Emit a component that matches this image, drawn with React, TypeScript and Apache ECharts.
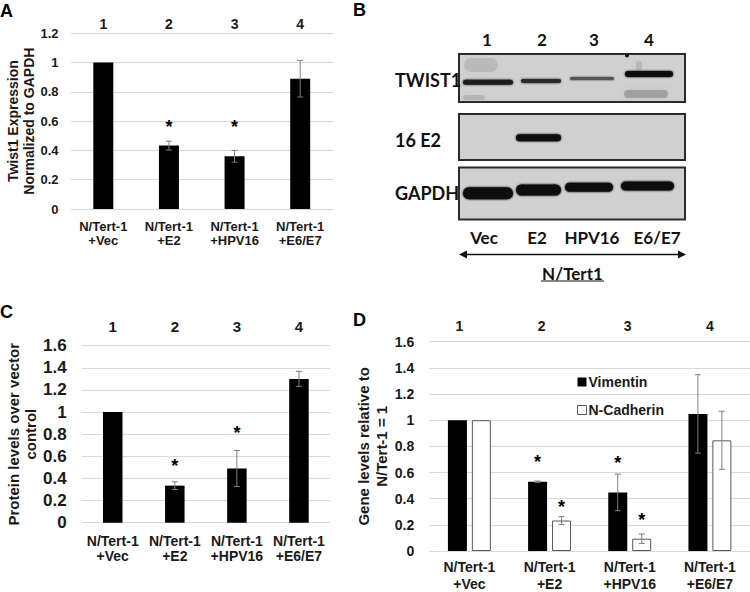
import React, { useEffect, useRef } from "react";
import * as echarts from "echarts";

// ---------- data ----------
const categories = ["N/Tert-1\n+Vec", "N/Tert-1\n+E2", "N/Tert-1\n+HPV16", "N/Tert-1\n+E6/E7"];
const laneNumbers = ["1", "2", "3", "4"];

const twist1Values = [1, 0.433, 0.36, 0.89];
const twist1Errors = [0, 0.03, 0.04, 0.125];
const twist1Stars: (number | null)[] = [null, 0.59, 0.59, null];

const proteinValues = [1, 0.335, 0.49, 1.3];
const proteinErrors = [0, 0.035, 0.163, 0.068];
const proteinStars: (number | null)[] = [null, 0.55, 0.85, null];

const vimentinValues = [1, 0.53, 0.448, 1.048];
const vimentinErrors = [0, 0.005, 0.14, 0.3];
const vimentinStars: (number | null)[] = [null, 0.71, 0.7, null];

const nCadherinValues = [1, 0.233, 0.094, 0.846];
const nCadherinErrors = [0, 0.03, 0.036, 0.222];
const nCadherinStars: (number | null)[] = [null, 0.37, 0.27, null];

const blotRowLabels = ["TWIST1", "16 E2", "GAPDH"];
const blotLaneLabels = ["Vec", "E2", "HPV16", "E6/E7"];
const blotCellLine = "N/Tert1";

const yTitleA = "Twist1 Expression\nNormalized to GAPDH";
const yTitleC = "Protein levels over vector\ncontrol";
const yTitleD = "Gene levels relative to\nN/Tert-1 = 1";

const FONT = '"Liberation Sans", Arial, sans-serif';
const BLOT_FONT = 'Lato, "Open Sans", sans-serif';
const TXT = "#1a1a1a";
const GRID_LINE = "#d9d9d9";
const ERR = "#7f7f7f";

function errorSeries(xi: number, yi: number, values: number[], errors: number[], offset: number) {
  return {
    type: "custom",
    xAxisIndex: xi,
    yAxisIndex: yi,
    silent: true,
    z: 10,
    data: values.map((v, i) => [i, v, errors[i]]),
    renderItem: (_p: any, api: any) => {
      const i = api.value(0);
      const v = api.value(1);
      const e = api.value(2);
      if (!e) return null;
      const top = api.coord([i, v + e]);
      const bot = api.coord([i, v - e]);
      const x = top[0] + offset;
      const st = { stroke: ERR, lineWidth: 1 };
      return {
        type: "group",
        children: [
          { type: "line", shape: { x1: x, y1: top[1], x2: x, y2: bot[1] }, style: st },
          { type: "line", shape: { x1: x - 3, y1: top[1], x2: x + 3, y2: top[1] }, style: st },
          { type: "line", shape: { x1: x - 3, y1: bot[1], x2: x + 3, y2: bot[1] }, style: st },
        ],
      };
    },
  };
}

function starSeries(xi: number, yi: number, stars: (number | null)[], offset: number) {
  const data: number[][] = [];
  stars.forEach((s, i) => {
    if (s != null) data.push([i, s]);
  });
  return {
    type: "custom",
    xAxisIndex: xi,
    yAxisIndex: yi,
    silent: true,
    z: 11,
    data,
    renderItem: (_p: any, api: any) => {
      const p = api.coord([api.value(0), api.value(1)]);
      return {
        type: "text",
        x: p[0] + offset,
        y: p[1] + 4,
        style: {
          text: "*",
          font: `bold 18px ${FONT}`,
          fill: "#000",
          align: "center",
          verticalAlign: "middle",
        },
      };
    },
  };
}

function bottomAxis(gridIndex: number, fontSize: number, lineHeight: number, margin: number) {
  return {
    type: "category",
    gridIndex,
    data: categories,
    axisLine: { show: false },
    axisTick: { show: false },
    axisLabel: {
      interval: 0,
      color: TXT,
      fontFamily: FONT,
      fontWeight: "bold",
      fontSize,
      lineHeight,
      margin,
    },
  };
}

function topAxis(gridIndex: number, fontSize: number, margin: number, shifts?: number[]) {
  return {
    type: "category",
    gridIndex,
    position: "top",
    data: laneNumbers.map((n, i) =>
      shifts ? { value: n, textStyle: { padding: [0, shifts[i] * 2, 0, 0] } } : n
    ),
    axisLine: { show: false },
    axisTick: { show: false },
    splitLine: { show: false },
    axisLabel: {
      interval: 0,
      color: TXT,
      fontFamily: FONT,
      fontWeight: "bold",
      fontSize,
      margin,
    },
  };
}

function valueAxis(
  gridIndex: number,
  max: number,
  fontSize: number,
  margin: number,
  name: string,
  nameSize: number,
  nameLH: number,
  nameGap: number
) {
  return {
    type: "value",
    gridIndex,
    min: 0,
    max,
    interval: 0.2,
    axisLine: { show: false },
    axisTick: { show: false },
    splitLine: { lineStyle: { color: GRID_LINE, width: 1 } },
    axisLabel: { color: TXT, fontFamily: FONT, fontWeight: "bold", fontSize, margin },
    name,
    nameLocation: "middle",
    nameRotate: 90,
    nameGap,
    nameTextStyle: {
      color: TXT,
      fontFamily: FONT,
      fontWeight: "bold",
      fontSize: nameSize,
      lineHeight: nameLH,
    },
  };
}

function blotGraphics() {
  const els: any[] = [];
  const boxX = 459;
  const boxW = 226;
  const boxes = [
    { y: 54, h: 48 },
    { y: 114, h: 46 },
    { y: 167.5, h: 52 },
  ];
  boxes.forEach((b) =>
    els.push({
      type: "rect",
      shape: { x: boxX, y: b.y, width: boxW, height: b.h },
      style: { fill: "#d0d0d0", stroke: "#2b2b2b", lineWidth: 2 },
      z: 1,
    })
  );
  // faint smudges
  const smudges = [
    { x: 464, y: 58, w: 34, h: 14, c: "rgba(120,120,120,0.22)" },
    { x: 463, y: 95, w: 22, h: 5, c: "rgba(110,110,110,0.25)" },
    { x: 624, y: 90, w: 44, h: 8, c: "rgba(90,90,90,0.35)" },
    { x: 636, y: 61, w: 6, h: 10, c: "rgba(120,120,120,0.25)" },
  ];
  smudges.forEach((s) =>
    els.push({
      type: "rect",
      shape: { x: s.x, y: s.y, width: s.w, height: s.h, r: Math.min(s.h, s.w) / 2 },
      style: { fill: s.c, shadowBlur: 6, shadowColor: s.c },
      z: 2,
    })
  );
  els.push({ type: "circle", shape: { cx: 627, cy: 55.5, r: 2 }, style: { fill: "#111" }, z: 3 });
  const bands = [
    { x1: 463, x2: 513, y: 82.3, h: 5, c: "#1c1c1c" },
    { x1: 521, x2: 561, y: 81, h: 4, c: "#2a2a2a" },
    { x1: 570, x2: 614, y: 78.5, h: 3, c: "#555" },
    { x1: 625, x2: 673, y: 74, h: 6, c: "#111" },
    { x1: 516, x2: 561, y: 137.7, h: 7, c: "#0d0d0d" },
    { x1: 463, x2: 513, y: 193.3, h: 12, c: "#0d0d0d" },
    { x1: 516, x2: 561, y: 190, h: 11, c: "#0d0d0d" },
    { x1: 565, x2: 613, y: 187.3, h: 9, c: "#111" },
    { x1: 621, x2: 674, y: 186, h: 9, c: "#111" },
  ];
  bands.forEach((b) =>
    els.push({
      type: "rect",
      shape: { x: b.x1, y: b.y - b.h / 2, width: b.x2 - b.x1, height: b.h, r: b.h / 2 },
      style: { fill: b.c, shadowBlur: 2, shadowColor: b.c },
      z: 3,
    })
  );
  const rowY = [80, 140, 193];
  blotRowLabels.forEach((t, i) =>
    els.push({
      type: "text",
      x: 395,
      y: rowY[i],
      style: { text: t, font: `bold 18px ${BLOT_FONT}`, fill: "#111", align: "left", verticalAlign: "middle" },
      z: 4,
    })
  );
  const numX = [487, 542, 594, 649];
  laneNumbers.forEach((t, i) =>
    els.push({
      type: "text",
      x: numX[i],
      y: 39,
      style: { text: t, font: `bold 17px ${BLOT_FONT}`, fill: "#111", align: "center", verticalAlign: "middle" },
      z: 4,
    })
  );
  const laneX = [484, 537, 592, 657];
  blotLaneLabels.forEach((t, i) =>
    els.push({
      type: "text",
      x: laneX[i],
      y: 237,
      style: { text: t, font: `bold 17px ${BLOT_FONT}`, fill: "#111", align: "center", verticalAlign: "middle" },
      z: 4,
    })
  );
  els.push({
    type: "line",
    shape: { x1: 462, y1: 254.5, x2: 684, y2: 254.5 },
    style: { stroke: "#111", lineWidth: 1.5 },
  });
  els.push({
    type: "polygon",
    shape: { points: [[459, 254.5], [467, 250.5], [467, 258.5]] },
    style: { fill: "#111" },
  });
  els.push({
    type: "polygon",
    shape: { points: [[686, 254.5], [678, 250.5], [678, 258.5]] },
    style: { fill: "#111" },
  });
  els.push({
    type: "text",
    x: 572.5,
    y: 273,
    style: { text: blotCellLine, font: `bold 17px ${BLOT_FONT}`, fill: "#111", align: "center", verticalAlign: "middle" },
  });
  els.push({
    type: "line",
    shape: { x1: 541, y1: 281, x2: 604, y2: 281 },
    style: { stroke: "#111", lineWidth: 1.2 },
  });
  return els;
}

function panelLetter(t: string, x: number, y: number) {
  return {
    type: "text",
    x,
    y,
    style: { text: t, font: `bold 18px ${FONT}`, fill: "#000", align: "left", verticalAlign: "middle" },
  };
}

export default function App() {
  const ref = useRef<HTMLDivElement>(null);
  useEffect(() => {
    if (!ref.current) return;
    const chart = echarts.init(ref.current, undefined, { renderer: "svg" });
    const option: any = {
      animation: false,
      backgroundColor: "#ffffff",
      grid: [
        { left: 70.5, top: 33.3, width: 262.5, height: 175.7 },
        { left: 81.7, top: 345.7, width: 248.3, height: 177 },
        { left: 429.3, top: 341.7, width: 321.7, height: 210.6 },
      ],
      xAxis: [
        bottomAxis(0, 13, 14, 10),
        topAxis(0, 14, 2),
        bottomAxis(1, 14, 15, 11),
        topAxis(1, 15, 12),
        bottomAxis(2, 14, 16.5, 8),
        topAxis(2, 14, 8.5, [10, 8, 2, 0]),
      ],
      yAxis: [
        valueAxis(0, 1.2, 13, 12, yTitleA, 14, 16, 32),
        valueAxis(1, 1.6, 17, 15, yTitleC, 15, 17, 37),
        valueAxis(2, 1.6, 14, 15, yTitleD, 15, 18, 39),
      ],
      legend: {
        orient: "vertical",
        left: 572,
        top: 370,
        itemWidth: 9,
        itemHeight: 9,
        itemGap: 14,
        icon: "rect",
        textStyle: { color: TXT, fontFamily: FONT, fontWeight: "bold", fontSize: 14, padding: [0, 0, 0, -3] },
        data: [
          { name: "Vimentin", itemStyle: { color: "#000" } },
          { name: "N-Cadherin", itemStyle: { color: "#fff", borderColor: "#595959", borderWidth: 1 } },
        ],
      },
      series: [
        {
          type: "bar",
          name: "Twist1",
          xAxisIndex: 0,
          yAxisIndex: 0,
          barWidth: 20,
          data: twist1Values,
          itemStyle: { color: "#000" },
        },
        errorSeries(0, 0, twist1Values, twist1Errors, 0),
        starSeries(0, 0, twist1Stars, 0),
        {
          type: "bar",
          name: "Protein",
          xAxisIndex: 2,
          yAxisIndex: 1,
          barWidth: 19.5,
          data: proteinValues,
          itemStyle: { color: "#000" },
        },
        errorSeries(2, 1, proteinValues, proteinErrors, 0),
        starSeries(2, 1, proteinStars, 0),
        {
          type: "bar",
          name: "Vimentin",
          xAxisIndex: 4,
          yAxisIndex: 2,
          barWidth: 19,
          barGap: "26%",
          data: vimentinValues,
          itemStyle: { color: "#000" },
        },
        {
          type: "bar",
          name: "N-Cadherin",
          xAxisIndex: 4,
          yAxisIndex: 2,
          barWidth: 19,
          barGap: "26%",
          data: nCadherinValues,
          itemStyle: { color: "#fff", borderColor: "#595959", borderWidth: 1 },
        },
        errorSeries(4, 2, vimentinValues, vimentinErrors, -12),
        errorSeries(4, 2, nCadherinValues, nCadherinErrors, 12),
        starSeries(4, 2, vimentinStars, -12),
        starSeries(4, 2, nCadherinStars, 12),
      ],
      graphic: [
        panelLetter("A", 0, 11),
        panelLetter("B", 353, 10),
        panelLetter("C", 0, 311.5),
        panelLetter("D", 353, 320),
        ...blotGraphics(),
      ],
    };
    chart.setOption(option);
    return () => chart.dispose();
  }, []);
  return <div ref={ref} style={{ width: 750, height: 592, position: "absolute", left: 0, top: 0 }} />;
}
